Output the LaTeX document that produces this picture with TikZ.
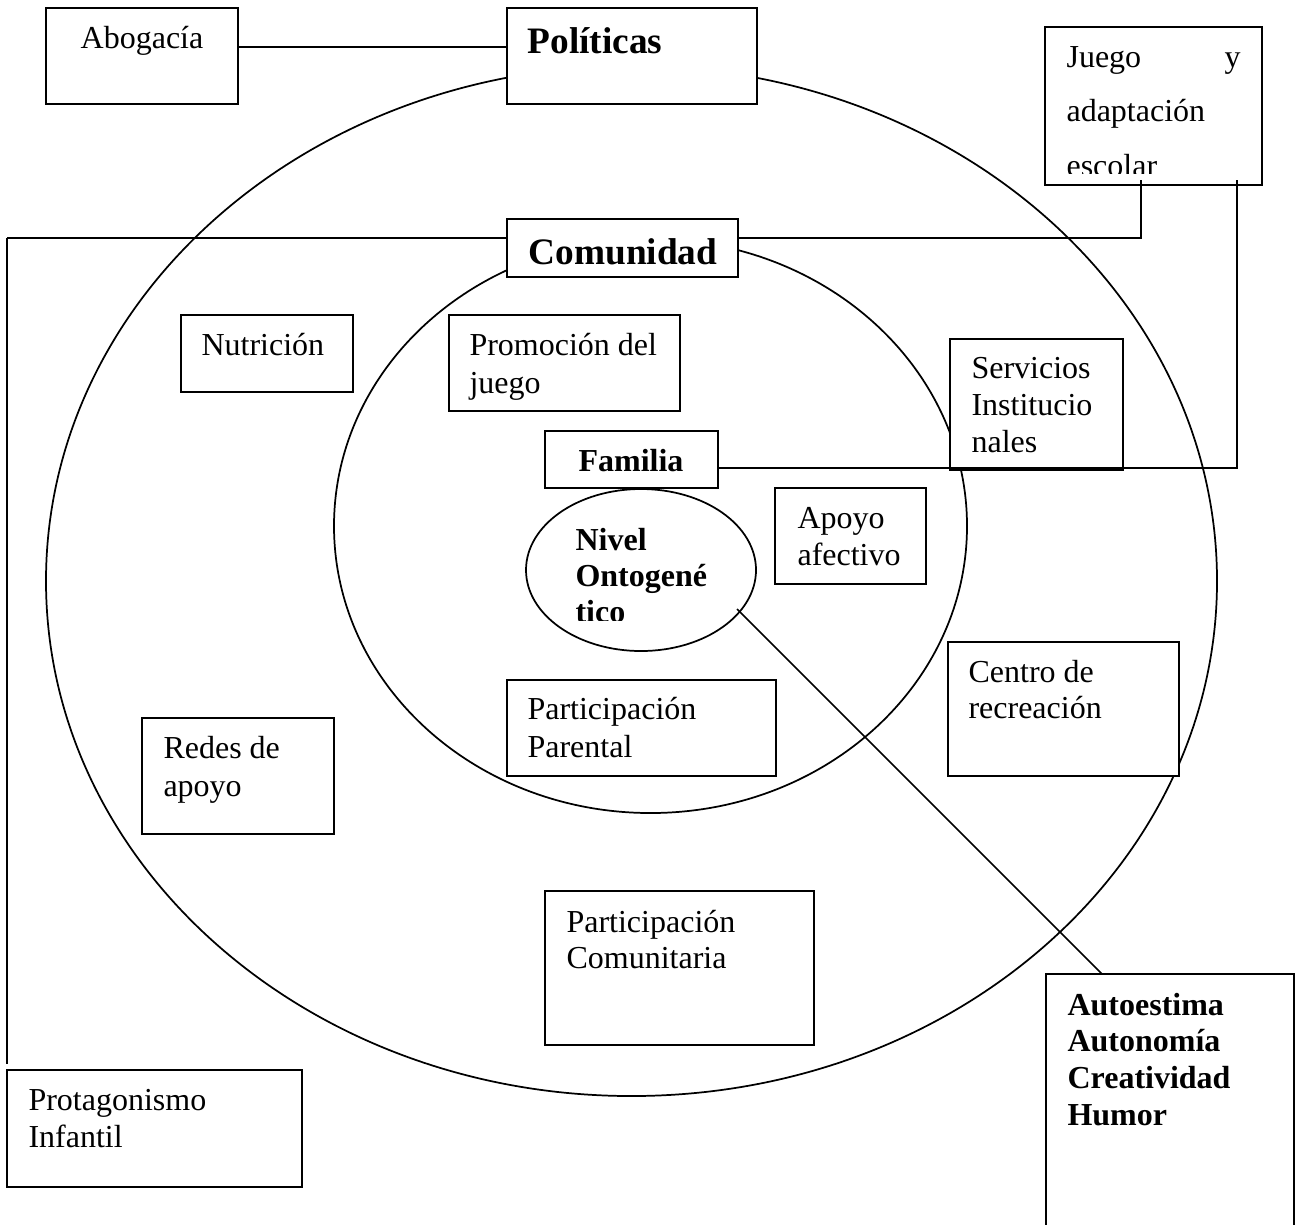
\documentclass[tikz,border=0pt]{standalone}
\usepackage{fontspec}
\setmainfont{Liberation Serif}
\usetikzlibrary{shapes.geometric,fit}
\newcommand\mlines[2][14pt]{\vtop{\baselineskip=#1\relax #2}}
\begin{document}
\begin{tikzpicture}[x=0.375pt,y=-0.375pt,
  boxs/.style={draw,fill=white,line width=0.7pt,inner sep=0pt,rectangle},
  ring/.style={draw,ellipse,line width=0.65pt,inner sep=0pt},
  conn/.style={line width=0.65pt},
  txt/.style={anchor=base west,inner sep=0pt,font=\fontsize{12}{14}\selectfont},
  btxt/.style={anchor=base west,inner sep=0pt,font=\fontsize{12}{14}\selectfont\bfseries},
  htxt/.style={anchor=base west,inner sep=0pt,font=\fontsize{14}{16}\selectfont\bfseries}]
\useasboundingbox (0,0) rectangle (1296,1224);
% circles
\node[ring,minimum width=439.125pt,minimum height=386.25pt] (outer) at (631.5,581) {};
\node[ring,minimum width=237.375pt,minimum height=215.25pt] (inner) at (650.5,526) {};
% helper coordinates
\coordinate (y47) at (0,47);
\coordinate (y238) at (0,238);
\coordinate (y468) at (0,468);
\coordinate (jl) at (1141,180);
\coordinate (jr) at (1237,180);
\coordinate (pl) at (7,1064);
\coordinate (ns) at (737,609);
\coordinate (at) at (1102,974);
% connectors under boxes
\draw[conn] (y238 -| 7,0) -- (pl);
% boxes
\node[boxs,fit={(46,8) (238,104)}] (abog) {};
\node[boxs,fit={(507,8) (757,104)}] (pol) {};
\node[boxs,fit={(1045,27) (1262,185)}] (juego) {};
\node[boxs,fit={(507,219) (738,277)}] (com) {};
\node[boxs,fit={(181,315) (353,392)}] (nutri) {};
\node[boxs,fit={(449,315) (680,411)}] (promo) {};
\node[boxs,fit={(545,431) (718,488)}] (fam) {};
\node[boxs,fit={(950,339) (1123,470)}] (serv) {};
\node[boxs,fit={(775,488) (926,584)}] (apoyo) {};
\node[boxs,fit={(948,642) (1179,776)}] (centro) {};
\node[boxs,fit={(507,680) (776,776)}] (parent) {};
\node[boxs,fit={(142,718) (334,834)}] (redes) {};
\node[boxs,fit={(545,891) (814,1045)}] (comun) {};
\node[boxs,fit={(7,1070) (302,1187)}] (prot) {};
\node[boxs,fit={(1046,974) (1294,1250)}] (auto) {};
\node[ring,fill=white,minimum width=86.25pt,minimum height=60.75pt] (nivel) at (641,570) {};
% connectors
\draw[conn] (abog.east |- y47) -- (pol.west |- y47);
\draw[conn] (com.west |- y238) -- (y238 -| 7,0);
\draw[conn] (com.east |- y238) -| (jl);
\draw[conn] (fam.east |- y468) -| (jr);
\draw[conn] (ns) -- (at);
% texts
\node[anchor=base,inner sep=0pt,font=\fontsize{12}{14}\selectfont] (tabog) at (142,48) {Abogacía};
\node[htxt] (tpol) at (527,53) {Políticas};
\begin{scope}
\clip (1048,30) rectangle (1259,173);
\node[txt] (tjuego) at (1066,67) {\mlines[20.6pt]{\hbox to 65.25pt{Juego\hfill y}\hbox{adaptación}\hbox{escolar}}};
\end{scope}
\node[htxt] (tcom) at (528,264) {Comunidad};
\node[txt] (tnutri) at (201,355) {Nutrición};
\node[txt] (tpromo) at (469,355) {\mlines[14.25pt]{\hbox{Promoción del}\hbox{juego}}};
\node[anchor=base,inner sep=0pt,font=\fontsize{12}{14}\selectfont\bfseries] (tfam) at (631,471) {Familia};
\node[txt] (tserv) at (971,378) {\mlines[13.9pt]{\hbox{Servicios}\hbox{Institucio}\hbox{nales}}};
\begin{scope}
\clip (560,520) rectangle (745,620);
\node[btxt] (tnivel) at (575,550) {\mlines[13.5pt]{\hbox{Nivel}\hbox{Ontogené}\hbox{tico}}};
\end{scope}
\node[txt] (tapoyo) at (797,528) {\mlines[13.9pt]{\hbox{Apoyo}\hbox{afectivo}}};
\node[txt] (tcentro) at (968,682) {\mlines[13.5pt]{\hbox{Centro de}\hbox{recreación}}};
\node[txt] (tparent) at (527,719) {\mlines[14.25pt]{\hbox{Participación}\hbox{Parental}}};
\node[txt] (tredes) at (163,758) {\mlines[14.25pt]{\hbox{Redes de}\hbox{apoyo}}};
\node[txt] (tcomun) at (566,932) {\mlines[13.5pt]{\hbox{Participación}\hbox{Comunitaria}}};
\node[txt] (tprot) at (28,1110) {\mlines[13.9pt]{\hbox{Protagonismo}\hbox{Infantil}}};
\node[btxt] (tauto) at (1067,1015) {\mlines[13.8pt]{\hbox{Autoestima}\hbox{Autonomía}\hbox{Creatividad}\hbox{Humor}}};
\end{tikzpicture}
\end{document}
